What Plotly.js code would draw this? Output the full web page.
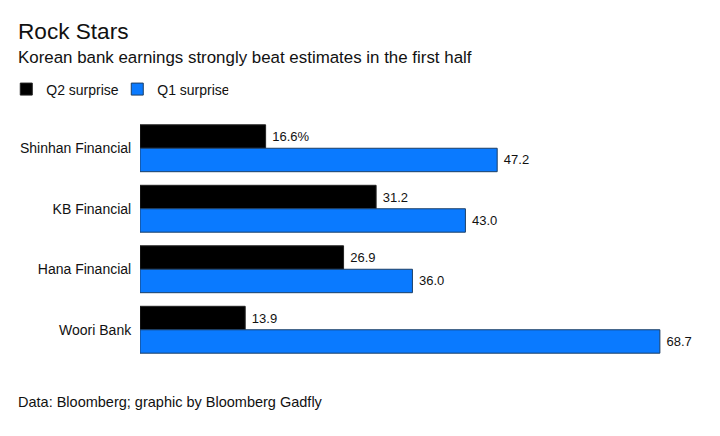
<!DOCTYPE html>
<html>
<head>
<meta charset="utf-8">
<script src="https://cdn.plot.ly/plotly-3.0.1.min.js"></script>
<style>html,body{margin:0;padding:0;background:#fff;}#chart{width:720px;height:436px;}</style>
</head>
<body>
<div id="chart"></div>
<script>
const banks = ["Shinhan Financial", "KB Financial", "Hana Financial", "Woori Bank"];
const q2Surprise = [16.6, 31.2, 26.9, 13.9];
const q1Surprise = [47.2, 43.0, 36.0, 68.7];
const q2Labels = ["16.6%", "31.2", "26.9", "13.9"];
const q1Labels = ["47.2", "43.0", "36.0", "68.7"];

const FONT = "Liberation Sans, Arial, Helvetica, sans-serif";
const pad = s => "\u00a0" + s;

const traces = [
  {
    type: "bar", orientation: "h", name: "Q2 surprise",
    y: banks, x: q2Surprise, text: q2Labels.map(pad), textposition: "outside",
    textfont: {family: FONT, size: 13, color: "#111"},
    marker: {color: "#000000", line: {color: "#222", width: 1}},
    cliponaxis: false, hoverinfo: "none"
  },
  {
    type: "bar", orientation: "h", name: "Q1 surprise",
    y: banks, x: q1Surprise, text: q1Labels.map(pad), textposition: "outside",
    textfont: {family: FONT, size: 13, color: "#111"},
    marker: {color: "#0a7aff", line: {color: "#1c3f66", width: 1}},
    cliponaxis: false, hoverinfo: "none"
  }
];

const layout = {
  width: 720, height: 436,
  margin: {l: 140, r: 20, t: 118, b: 76, autoexpand: false},
  paper_bgcolor: "#fff", plot_bgcolor: "#fff",
  font: {family: FONT, color: "#111", size: 14},
  barmode: "group", bargap: 0.225, bargroupgap: 0,
  showlegend: true,
  legend: {
    orientation: "h", x: -0.2388, xanchor: "left", y: 1.1178, yanchor: "middle",
    yref: "paper", font: {family: FONT, size: 14, color: "#111"},
    traceorder: "normal", entrywidth: 66, entrywidthmode: "pixels", bgcolor: "rgba(0,0,0,0)"
  },
  xaxis: {range: [0, 74], showgrid: false, zeroline: false, showticklabels: false, showline: false, ticks: ""},
  yaxis: {
    autorange: "reversed", showgrid: false, zeroline: false, showline: false,
    ticks: "outside", ticklen: 5, tickcolor: "rgba(0,0,0,0)",
    tickfont: {family: FONT, size: 14, color: "#111"}
  },
  annotations: [
    {text: "Rock Stars", xref: "paper", yref: "paper", x: -0.2214, y: 1.4174, xanchor: "left", yanchor: "top",
     showarrow: false, font: {family: FONT, size: 22.6, color: "#111"}},
    {text: "Korean bank earnings strongly beat estimates in the first half", xref: "paper", yref: "paper",
     x: -0.2214, y: 1.2975, xanchor: "left", yanchor: "top",
     showarrow: false, font: {family: FONT, size: 16.9, color: "#111"}},
    {text: "Data: Bloomberg; graphic by Bloomberg Gadfly", xref: "paper", yref: "paper",
     x: -0.2214, y: -0.1322, xanchor: "left", yanchor: "top",
     showarrow: false, font: {family: FONT, size: 14.5, color: "#111"}}
  ]
};

Plotly.newPlot("chart", traces, layout, {displayModeBar: false, staticPlot: true});
</script>
</body>
</html>
